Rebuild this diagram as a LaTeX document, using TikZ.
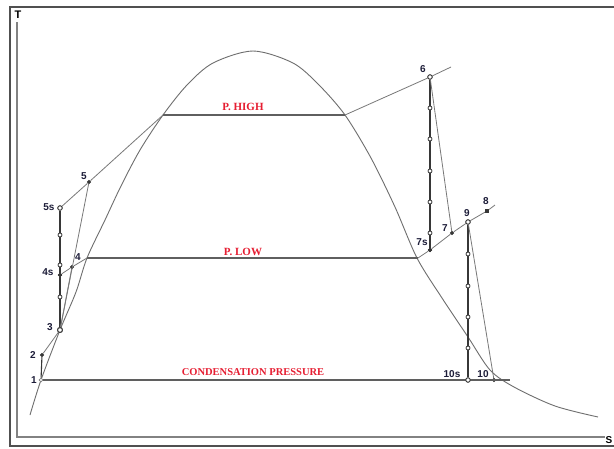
\documentclass[tikz,border=0pt]{standalone}
\usepackage{fontspec}
\setmainfont{Liberation Sans}
\newfontfamily\labserif{Liberation Serif}
\definecolor{framec}{RGB}{80,80,80}
\definecolor{axisc}{RGB}{130,130,130}
\definecolor{curvec}{RGB}{110,110,110}
\definecolor{thinc}{RGB}{120,120,120}
\definecolor{darkc}{RGB}{55,55,55}
\definecolor{numc}{RGB}{28,28,56}
\definecolor{redc}{RGB}{230,30,50}
\begin{document}
\begin{tikzpicture}[x=1pt,y=-1pt,
  thinline/.style={draw=thinc,line width=0.8pt},
  isoline/.style={draw=darkc,line width=1.1pt},
  dome/.style={draw=curvec,line width=0.9pt},
  presline/.style={draw=darkc!80,line width=1.2pt},
  opendot/.style={circle,draw=darkc,fill=white,line width=0.8pt,inner sep=0pt,minimum size=4.4pt},
  filldot/.style={circle,draw=darkc,fill=darkc,inner sep=0pt,minimum size=3.8pt},
  fillsq/.style={rectangle,fill=darkc,inner sep=0pt,minimum size=3.8pt},
  num/.style={font=\fontsize{10}{12}\selectfont\bfseries,text=numc,inner sep=0pt},
  prestext/.style={font=\labserif\fontsize{11}{13}\selectfont\bfseries,text=redc,inner sep=0pt}
]
\useasboundingbox (0,0) rectangle (614,448);
\fill[white] (0,0) rectangle (614,448);
\clip (0,0) rectangle (614,448);
% frame and axes
\draw[framec,line width=1.8pt] (640,7) -- (10,7) -- (10,446) -- (640,446);
\coordinate (ytop) at (17,22);
\coordinate (orig) at (17,437);
\coordinate (xend) at (605,437);
\draw[axisc,line width=1.8pt] (ytop) -- (orig) -- (xend);
\node[font=\fontsize{11}{13}\selectfont\bfseries,inner sep=0pt] (T) at (18,15) {T};
\node[font=\fontsize{10}{12}\selectfont\bfseries,inner sep=0pt,anchor=west] (S) at (605.5,440) {S};
% saturation dome
\draw[dome] plot[smooth] coordinates {(30,415) (41,380) (60,330) (76,292) (87,258) (105,220) (121,186) (140,150) (163,115) (187,85) (213,63) (253,51) (293,63) (319,85) (345,115) (371,158) (395,207) (417,258) (442,298) (468,337) (490,370) (514,387) (555,406) (598,417)};
% key coordinates
\coordinate (hl) at (163,115);
\coordinate (hr) at (345,115);
\coordinate (lowl) at (87,258);
\coordinate (lowr) at (418,258);
\coordinate (e6) at (451,67);
\coordinate (e8) at (495,205);
\coordinate (ce) at (510,380);
% pressure lines
\draw[presline] (hl) -- (hr);
\draw[presline] (lowl) -- (lowr);
\node[prestext] (ph) at (243,107) {P. HIGH};
\node[prestext] (pl) at (243,252) {P. LOW};
\node[prestext,font=\labserif\fontsize{10.5}{12}\selectfont\bfseries] (cp) at (253,372) {CONDENSATION PRESSURE};
% state point nodes
\node[opendot,draw=gray,minimum size=3.8pt] (p1) at (41,380) {};
\node[filldot] (p2) at (42,355) {};
\node[opendot,line width=1pt,minimum size=4.8pt] (p3) at (60,330) {};
\node[filldot] (p4s) at (60,275) {};
\node[filldot] (p4) at (72,267) {};
\node[opendot] (p5s) at (60,208) {};
\node[filldot] (p5) at (89,182) {};
\node[opendot] (p6) at (430,77) {};
\node[filldot] (p7s) at (430,250) {};
\node[filldot] (p7) at (452,233) {};
\node[opendot] (p9) at (468,222) {};
\node[fillsq] (p8) at (487,211) {};
\node[opendot] (p10s) at (468,380) {};
\node[filldot] (p10) at (494,380) {};
% condensation line
\draw[presline] (p1) -- (ce);
% left cycle lines
\draw[isoline] (p1) -- (p2);
\draw[thinline] (p2) -- (p3);
\draw[isoline] (p3) -- (p4s) -- (p5s);
\draw[thinline] (p3) -- (p4);
\draw[thinline] (p3) -- (p5);
\draw[thinline] (p4s) -- (p4) -- (lowl);
\draw[thinline] (p5s) -- (p5) -- (hl);
% right cycle lines
\draw[thinline] (hr) -- (p6) -- (e6);
\draw[isoline] (p6) -- (p7s);
\draw[thinline] (p6) -- (p7);
\draw[thinline] (lowr) -- (p7s) -- (p7) -- (p9) -- (p8) -- (e8);
\draw[isoline] (p9) -- (p10s);
\draw[thinline] (p9) -- (p10);
% intermediate markers
\foreach \y [count=\i] in {235,265,297} \node[opendot,minimum size=4pt] (ml\i) at (60,\y) {};
\foreach \y [count=\i] in {108,139,171,202,233} \node[opendot,minimum size=4pt] (mr\i) at (430,\y) {};
\foreach \y [count=\i] in {254,286,317,348} \node[opendot,minimum size=4pt] (mb\i) at (468,\y) {};
% redraw main markers on top
\node[opendot,line width=1pt,minimum size=4.8pt] at (p3) {};
\node[opendot] at (p5s) {};
\node[opendot] at (p6) {};
\node[opendot] at (p9) {};
\node[opendot] at (p10s) {};
\node[filldot] at (p4s) {};
\node[filldot] at (p7s) {};
% labels
\node[num] (l1) at (34,380) {1};
\node[num] (l2) at (33,355) {2};
\node[num] (l3) at (50,327) {3};
\node[num] (l4s) at (48,272) {4s};
\node[num] (l4) at (78,257) {4};
\node[num] (l5s) at (49,207) {5s};
\node[num] (l5) at (84,176) {5};
\node[num] (l6) at (423,69) {6};
\node[num] (l7s) at (422,242) {7s};
\node[num] (l7) at (445,228) {7};
\node[num] (l9) at (467,213) {9};
\node[num] (l8) at (486,201) {8};
\node[num] (l10s) at (452,374) {10s};
\node[num] (l10) at (483,374) {10};
\end{tikzpicture}
\end{document}
